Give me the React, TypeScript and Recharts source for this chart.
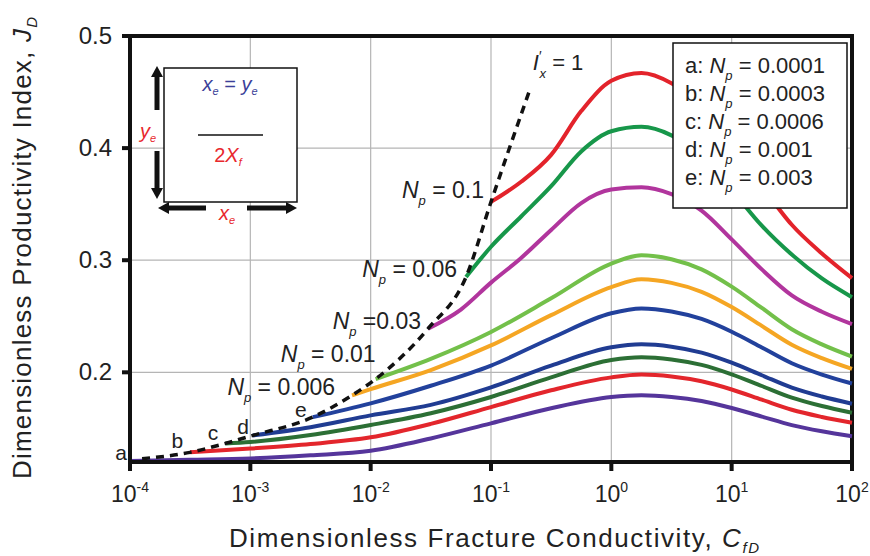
import React from 'react';
import { LineChart, Line, XAxis, YAxis, CartesianGrid, ReferenceArea } from 'recharts';

const FONT = '"Liberation Sans", Arial, Helvetica, sans-serif';

// ---- axes ----
const X_TICKS = [1e-4, 1e-3, 1e-2, 1e-1, 1, 10, 100];
const X_TICK_EXP = ['-4', '-3', '-2', '-1', '0', '1', '2'];
const Y_TICKS = [0.2, 0.3, 0.4, 0.5];
const X_DOMAIN = [1e-4, 100];
const Y_DOMAIN = [0.12, 0.5];

// ---- series (CfD, JD) ----
const CFD_A = [1e-4, 3.16e-4, 1e-3, 3.16e-3, 1e-2, 3.16e-2, 0.1, 0.316, 1, 1.78, 3.16, 5.62, 10, 17.8, 31.6, 56.2, 100];
const JD_A = [0.121, 0.122, 0.1232, 0.126, 0.13, 0.141, 0.1545, 0.168, 0.178, 0.1795, 0.178, 0.1744, 0.1682, 0.1605, 0.1529, 0.1474, 0.143];

const CFD_B = [3.16e-4, 1e-3, 3.16e-3, 1e-2, 3.16e-2, 0.1, 0.316, 1, 1.78, 3.16, 5.62, 10, 17.8, 31.6, 56.2, 100];
const JD_B = [0.1286, 0.132, 0.136, 0.142, 0.154, 0.169, 0.184, 0.1955, 0.198, 0.1963, 0.192, 0.1847, 0.1756, 0.1666, 0.1602, 0.155];

const CFD_C = [6.2e-4, 1e-3, 3.16e-3, 1e-2, 3.16e-2, 0.1, 0.316, 1, 1.78, 3.16, 5.62, 10, 17.8, 31.6, 56.2, 100];
const JD_C = [0.1366, 0.1378, 0.144, 0.153, 0.1635, 0.178, 0.1955, 0.211, 0.2135, 0.2115, 0.2066, 0.1982, 0.1878, 0.1774, 0.1699, 0.164];

const CFD_D = [1.05e-3, 3.16e-3, 1e-2, 3.16e-2, 0.1, 0.316, 1, 1.78, 3.16, 5.62, 10, 17.8, 31.6, 56.2, 100];
const JD_D = [0.1437, 0.151, 0.1616, 0.171, 0.1866, 0.206, 0.2223, 0.225, 0.2229, 0.2176, 0.2086, 0.1974, 0.1863, 0.1784, 0.172];

const CFD_E = [3.3e-3, 1e-2, 3.16e-2, 0.1, 0.316, 1, 1.78, 3.16, 5.62, 10, 17.8, 31.6, 56.2, 100];
const JD_E = [0.16, 0.1723, 0.188, 0.206, 0.2304, 0.2527, 0.257, 0.2543, 0.2476, 0.2362, 0.2222, 0.2081, 0.198, 0.19];

const CFD_006 = [7e-3, 1e-2, 3.16e-2, 0.1, 0.316, 1, 1.78, 3.16, 5.62, 10, 17.8, 31.6, 56.2, 100];
const JD_006 = [0.1795, 0.185, 0.202, 0.224, 0.251, 0.276, 0.283, 0.2798, 0.2718, 0.2582, 0.2414, 0.2246, 0.2126, 0.203];

const CFD_01 = [1.1e-2, 3.16e-2, 0.1, 0.316, 1, 1.78, 3.16, 5.62, 10, 17.8, 31.6, 56.2, 100];
const JD_01 = [0.194, 0.212, 0.236, 0.266, 0.297, 0.3045, 0.3009, 0.2918, 0.2764, 0.2574, 0.2384, 0.2249, 0.214];

const CFD_03 = [3.0e-2, 5.62e-2, 0.1, 0.178, 0.316, 0.562, 1, 1.78, 3.16, 5.62, 10, 17.8, 31.6, 56.2, 100];
const JD_03 = [0.239, 0.256, 0.28, 0.302, 0.327, 0.351, 0.363, 0.365, 0.3589, 0.3443, 0.3186, 0.2918, 0.2686, 0.254, 0.243];

const CFD_06 = [6.2e-2, 0.1, 0.178, 0.316, 0.562, 1, 1.78, 3.16, 5.62, 10, 17.8, 31.6, 56.2, 100];
const JD_06 = [0.285, 0.312, 0.339, 0.366, 0.397, 0.415, 0.419, 0.4114, 0.3932, 0.3628, 0.3308, 0.305, 0.2837, 0.267];

const CFD_1 = [0.1, 0.178, 0.316, 0.562, 1, 1.78, 3.16, 5.62, 10, 17.8, 31.6, 56.2, 100];
const JD_1 = [0.352, 0.37, 0.394, 0.433, 0.46, 0.467, 0.4579, 0.4377, 0.4048, 0.3664, 0.3316, 0.306, 0.284];

// I'x = 1 boundary (dashed)
const CFD_IX = [1.26e-4, 3.16e-4, 6.2e-4, 1.05e-3, 3.3e-3, 7e-3, 1.1e-2, 3.0e-2, 6.2e-2, 0.1, 0.21];
const JD_IX = [0.123, 0.1286, 0.1366, 0.1437, 0.16, 0.1795, 0.194, 0.239, 0.285, 0.352, 0.452];

// legend entries
const LEGEND_LETTERS = ['a', 'b', 'c', 'd', 'e'];
const LEGEND_NP = ['0.0001', '0.0003', '0.0006', '0.001', '0.003'];

const toRows = (xs: number[], ys: number[]) => xs.map((x, i) => ({ x, y: ys[i] }));

type LabelSpec = { kind: 'np' | 'letter'; text: string; dx: number; dy: number };

const SERIES: { id: string; color: string; xs: number[]; ys: number[]; label: LabelSpec }[] = [
  { id: 'a', color: '#55359b', xs: CFD_A, ys: JD_A, label: { kind: 'letter', text: 'a', dx: -3, dy: -1 } },
  { id: 'b', color: '#e3262c', xs: CFD_B, ys: JD_B, label: { kind: 'letter', text: 'b', dx: -7, dy: -4 } },
  { id: 'c', color: '#2c6f35', xs: CFD_C, ys: JD_C, label: { kind: 'letter', text: 'c', dx: -7, dy: -3 } },
  { id: 'd', color: '#203c92', xs: CFD_D, ys: JD_D, label: { kind: 'letter', text: 'd', dx: -4, dy: -1 } },
  { id: 'e', color: '#22419c', xs: CFD_E, ys: JD_E, label: { kind: 'letter', text: 'e', dx: -6, dy: 0 } },
  { id: 'n006', color: '#f5a623', xs: CFD_006, ys: JD_006, label: { kind: 'np', text: '= 0.006', dx: -17, dy: 0 } },
  { id: 'n01', color: '#73c04a', xs: CFD_01, ys: JD_01, label: { kind: 'np', text: '= 0.01', dx: 0, dy: -17 } },
  { id: 'n03', color: '#b1359d', xs: CFD_03, ys: JD_03, label: { kind: 'np', text: '=0.03', dx: -7, dy: 0 } },
  { id: 'n06', color: '#17974a', xs: CFD_06, ys: JD_06, label: { kind: 'np', text: '= 0.06', dx: -9, dy: 0 } },
  { id: 'n1', color: '#e3232b', xs: CFD_1, ys: JD_1, label: { kind: 'np', text: '= 0.1', dx: -7, dy: -4 } },
];

const TXT = '#222';

const makeStartLabel = (id: string, spec: LabelSpec) => (props: any) => {
  const { cx, cy, index } = props;
  const key = `lbl-${id}-${index}`;
  if (index !== 0 || typeof cx !== 'number' || typeof cy !== 'number') return <g key={key} />;
  const x = cx + spec.dx;
  const y = cy + spec.dy;
  if (spec.kind === 'letter') {
    return (
      <text key={key} x={x} y={y} textAnchor="end" fontSize={21} fontFamily={FONT} fill={TXT}>
        {spec.text}
      </text>
    );
  }
  return (
    <text key={key} x={x} y={y} textAnchor="end" fontSize={23} fontFamily={FONT} fill={TXT}>
      <tspan fontStyle="italic">N</tspan>
      <tspan fontStyle="italic" fontSize={13} dy={7}>p</tspan>
      <tspan dy={-7}>{' ' + spec.text}</tspan>
    </text>
  );
};

const ixLabel = (props: any) => {
  const { cx, cy, index } = props;
  const key = `ix-${index}`;
  if (index !== CFD_IX.length - 1 || typeof cx !== 'number') return <g key={key} />;
  return (
    <text key={key} x={cx + 3} y={cy - 20} fontSize={22} fontFamily={FONT} fill={TXT}>
      <tspan fontStyle="italic">I</tspan>
      <tspan fontSize={14} dy={-9}>′</tspan>
      <tspan fontStyle="italic" fontSize={13} dx={-2} dy={17}>x</tspan>
      <tspan dy={-8}>{' = 1'}</tspan>
    </text>
  );
};

const XTick = (props: any) => {
  const { x, y, payload, index } = props;
  const i = X_TICKS.indexOf(payload.value);
  const exp = X_TICK_EXP[i >= 0 ? i : index];
  return (
    <text x={x} y={y + 29} textAnchor="middle" fontSize={23} fontFamily={FONT} fill={TXT}>
      <tspan>10</tspan>
      <tspan fontSize={14} dy={-10}>{exp}</tspan>
    </text>
  );
};

const YTick = (props: any) => {
  const { x, y, payload } = props;
  return (
    <text x={x} y={y + 8} textAnchor="end" fontSize={24} fontFamily={FONT} fill={TXT}>
      {Number(payload.value).toFixed(1)}
    </text>
  );
};

const Arrow = ({ x1, y1, x2, y2 }: { x1: number; y1: number; x2: number; y2: number }) => {
  // arrow from (x1,y1) with head at (x2,y2)
  const dx = x2 - x1;
  const dy = y2 - y1;
  const len = Math.sqrt(dx * dx + dy * dy);
  const ux = dx / len;
  const uy = dy / len;
  const head = 11;
  const hw = 6;
  const bx = x2 - ux * head;
  const by = y2 - uy * head;
  return (
    <g>
      <line x1={x1} y1={y1} x2={bx} y2={by} stroke="#111" strokeWidth={5} />
      <polygon
        points={`${x2},${y2} ${bx - uy * hw},${by + ux * hw} ${bx + uy * hw},${by - ux * hw}`}
        fill="#111"
      />
    </g>
  );
};

const Overlay = () => (
  <svg width={870} height={556} style={{ position: 'absolute', left: 0, top: 0, pointerEvents: 'none' }}>
    {/* inset diagram */}
    <rect x={164} y={68} width={133} height={134} fill="#fff" stroke="#111" strokeWidth={1.5} />
    <text x={230} y={91} textAnchor="middle" fontSize={20} fontFamily={FONT} fill="#3b3f99" fontStyle="italic">
      <tspan>x</tspan>
      <tspan fontSize={11} dy={4}>e</tspan>
      <tspan dy={-4} fontStyle="normal">{' = '}</tspan>
      <tspan>y</tspan>
      <tspan fontSize={11} dy={4}>e</tspan>
    </text>
    <line x1={198} y1={135} x2={263} y2={135} stroke="#111" strokeWidth={1.3} />
    <text x={228} y={162} textAnchor="middle" fontSize={20} fontFamily={FONT} fill="#e8282e">
      <tspan>2</tspan>
      <tspan fontStyle="italic">X</tspan>
      <tspan fontSize={11} dy={4} fontStyle="italic">f</tspan>
    </text>
    <Arrow x1={157} y1={110} x2={157} y2={66} />
    <Arrow x1={157} y1={151} x2={157} y2={199} />
    <text x={148} y={138} textAnchor="middle" fontSize={20} fontFamily={FONT} fill="#e8282e" fontStyle="italic">
      <tspan>y</tspan>
      <tspan fontSize={11} dy={4}>e</tspan>
    </text>
    <Arrow x1={206} y1={208} x2={158} y2={208} />
    <Arrow x1={247} y1={208} x2={297} y2={208} />
    <text x={227} y={220} textAnchor="middle" fontSize={20} fontFamily={FONT} fill="#e8282e" fontStyle="italic">
      <tspan>x</tspan>
      <tspan fontSize={11} dy={4}>e</tspan>
    </text>

    {/* legend */}
    <rect x={673} y={43} width={174} height={165} fill="#fff" stroke="#111" strokeWidth={1.5} />
    {LEGEND_LETTERS.map((l, i) => (
      <text key={l} x={685} y={73 + i * 28} fontSize={22} fontFamily={FONT} fill={TXT}>
        <tspan>{l + ': '}</tspan>
        <tspan fontStyle="italic">N</tspan>
        <tspan fontStyle="italic" fontSize={13} dy={7}>p</tspan>
        <tspan dy={-7}>{' = ' + LEGEND_NP[i]}</tspan>
      </text>
    ))}

    {/* axis titles */}
    <text
      transform="translate(22,248) rotate(-90)"
      x={0}
      y={9}
      textAnchor="middle"
      fontSize={26}
      fontFamily={FONT}
      fill={TXT}
      textLength={462}
      lengthAdjust="spacing"
    >
      <tspan>Dimensionless Productivity Index, </tspan>
      <tspan fontStyle="italic">J</tspan>
      <tspan fontStyle="italic" fontSize={15} dy={6}>D</tspan>
    </text>
    <text
      x={494}
      y={547}
      textAnchor="middle"
      fontSize={26}
      fontFamily={FONT}
      fill={TXT}
      textLength={530}
      lengthAdjust="spacing"
    >
      <tspan>Dimensionless Fracture Conductivity, </tspan>
      <tspan fontStyle="italic">C</tspan>
      <tspan fontStyle="italic" fontSize={15} dy={6}>fD</tspan>
    </text>
  </svg>
);

export default function App() {
  return (
    <div style={{ position: 'absolute', left: 0, top: 0, width: 870, height: 556, background: '#fff' }}>
      <LineChart width={870} height={556} margin={{ top: 36, right: 18, bottom: 34, left: 0 }}>
        <CartesianGrid stroke="#b5b5b5" strokeWidth={1.2} />
        <XAxis
          dataKey="x"
          type="number"
          scale="log"
          domain={X_DOMAIN}
          ticks={X_TICKS}
          interval={0}
          height={60}
          tickSize={9}
          tick={<XTick />}
          tickLine={{ stroke: '#111', strokeWidth: 4 }}
          axisLine={{ stroke: '#111', strokeWidth: 4 }}
        />
        <YAxis
          type="number"
          domain={Y_DOMAIN}
          ticks={Y_TICKS}
          interval={0}
          width={130}
          tickSize={8}
          tickMargin={10}
          tick={<YTick />}
          tickLine={{ stroke: '#111', strokeWidth: 4 }}
          axisLine={{ stroke: '#111', strokeWidth: 4 }}
        />
        <ReferenceArea
          x1={X_DOMAIN[0]}
          x2={X_DOMAIN[1]}
          y1={Y_DOMAIN[0]}
          y2={Y_DOMAIN[1]}
          fill="none"
          fillOpacity={0}
          stroke="#111"
          strokeWidth={4}
          ifOverflow="visible"
        />
        {SERIES.map((s) => (
          <Line
            key={s.id}
            data={toRows(s.xs, s.ys)}
            dataKey="y"
            type="monotone"
            stroke={s.color}
            strokeWidth={4}
            dot={makeStartLabel(s.id, s.label)}
            activeDot={false}
            isAnimationActive={false}
          />
        ))}
        <Line
          data={toRows(CFD_IX, JD_IX)}
          dataKey="y"
          type="monotone"
          stroke="#111"
          strokeWidth={3.5}
          strokeDasharray="8 6"
          dot={ixLabel}
          activeDot={false}
          isAnimationActive={false}
        />
      </LineChart>
      <Overlay />
    </div>
  );
}
